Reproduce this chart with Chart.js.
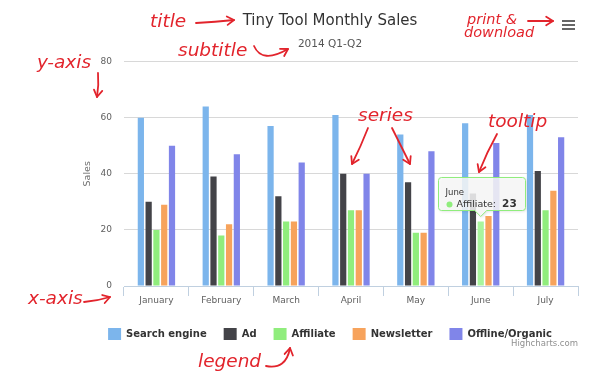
<!DOCTYPE html>
<html>
<head>
<meta charset="utf-8">
<script src="https://cdn.jsdelivr.net/npm/chart.js"></script>
<style>
  body { margin: 0; background: #fff; }
  canvas { display: block; }
</style>
</head>
<body>
<canvas id="salesChart" width="600" height="388"></canvas>
<script>
const months = ['January', 'February', 'March', 'April', 'May', 'June', 'July'];
const searchEngine = [60, 64, 57, 61, 54, 58, 61];
const ad = [30, 39, 32, 40, 37, 33, 41];
const affiliate = [20, 18, 23, 27, 19, 23, 27];
const newsletter = [29, 22, 23, 27, 19, 25, 34];
const offlineOrganic = [50, 47, 44, 40, 48, 51, 53];
const yTicks = [0, 20, 40, 60, 80];

// the point that shows the tooltip (June / Affiliate)
const tipSeries = 2;
const tipIndex = 5;

const RED = '#e2242c';
const HAND = 'italic 18.5px "DejaVu Sans"';

Chart.defaults.font.family = '"DejaVu Sans", sans-serif';

function arrowHead(ctx, fromX, fromY, x, y) {
    const a = Math.atan2(y - fromY, x - fromX);
    const len = 8;
    ctx.beginPath();
    ctx.moveTo(x - len * Math.cos(a - 0.55), y - len * Math.sin(a - 0.55));
    ctx.lineTo(x, y);
    ctx.lineTo(x - len * Math.cos(a + 0.55), y - len * Math.sin(a + 0.55));
    ctx.stroke();
}

function curvedArrow(ctx, x1, y1, cx, cy, x2, y2) {
    ctx.beginPath();
    ctx.moveTo(x1, y1);
    ctx.quadraticCurveTo(cx, cy, x2, y2);
    ctx.stroke();
    arrowHead(ctx, cx, cy, x2, y2);
}

// highcharts-like tooltip, anchored on the bar element
const tipPlugin = {
    id: 'fakeTip',
    afterDatasetsDraw(chart) {
        const el = chart.getDatasetMeta(tipSeries).data[tipIndex];
        const ctx = chart.ctx;
        const w = 87, h = 33;
        const tipX = el.x, tipY = el.y - 5;
        const left = Math.round(tipX - w / 2) + 1.5;
        const bottom = Math.round(tipY - 6) + 0.5;
        const top = bottom - h;
        const right = left + w;
        const r = 3;
        ctx.save();
        ctx.beginPath();
        ctx.moveTo(left + r, top);
        ctx.lineTo(right - r, top);
        ctx.arcTo(right, top, right, top + r, r);
        ctx.lineTo(right, bottom - r);
        ctx.arcTo(right, bottom, right - r, bottom, r);
        ctx.lineTo(tipX + 6, bottom);
        ctx.lineTo(tipX, tipY);
        ctx.lineTo(tipX - 6, bottom);
        ctx.lineTo(left + r, bottom);
        ctx.arcTo(left, bottom, left, bottom - r, r);
        ctx.lineTo(left, top + r);
        ctx.arcTo(left, top, left + r, top, r);
        ctx.closePath();
        ctx.shadowColor = 'rgba(0,0,0,0.15)';
        ctx.shadowOffsetX = 1;
        ctx.shadowOffsetY = 1;
        ctx.shadowBlur = 3;
        ctx.fillStyle = 'rgba(249,249,249,0.85)';
        ctx.fill();
        ctx.shadowColor = 'transparent';
        ctx.strokeStyle = '#90ed7d';
        ctx.lineWidth = 1;
        ctx.stroke();

        ctx.textBaseline = 'middle';
        ctx.textAlign = 'left';
        ctx.fillStyle = '#333';
        ctx.font = '8.5px "DejaVu Sans"';
        ctx.fillText(months[tipIndex], left + 7, top + 15);
        ctx.fillStyle = '#90ed7d';
        ctx.beginPath();
        ctx.arc(left + 11, top + 27, 3, 0, Math.PI * 2);
        ctx.fill();
        ctx.fillStyle = '#333';
        ctx.font = '9.5px "DejaVu Sans"';
        const label = chart.data.datasets[tipSeries].label + ': ';
        ctx.fillText(label, left + 18, top + 27);
        const lw = ctx.measureText(label).width;
        ctx.font = 'bold 10.5px "DejaVu Sans"';
        ctx.fillText(String(affiliate[tipIndex]), left + 18 + lw + 3, top + 27);
        ctx.restore();
    }
};

// menu icon, credit and the red hand notes
const notesPlugin = {
    id: 'notes',
    afterDraw(chart) {
        const ctx = chart.ctx;
        ctx.save();
        ctx.fillStyle = '#666';
        for (let i = 0; i < 3; i++) {
            ctx.fillRect(562, 20 + i * 4, 13, 2);
        }
        ctx.font = '8.5px "DejaVu Sans"';
        ctx.fillStyle = '#909090';
        ctx.textAlign = 'right';
        ctx.textBaseline = 'middle';
        ctx.fillText('Highcharts.com', 578, 344);

        ctx.fillStyle = RED;
        ctx.strokeStyle = RED;
        ctx.lineWidth = 1.8;
        ctx.lineCap = 'round';
        ctx.lineJoin = 'round';
        ctx.font = HAND;
        ctx.textAlign = 'left';

        ctx.fillText('title', 150, 22);
        curvedArrow(ctx, 196, 23, 215, 22, 234, 20);

        ctx.fillText('subtitle', 178, 51);
        curvedArrow(ctx, 254, 46, 262, 64, 288, 49);

        ctx.fillText('y-axis', 37, 63);
        curvedArrow(ctx, 98, 73, 99, 85, 97, 97);

        ctx.fillText('x-axis', 28, 299);
        curvedArrow(ctx, 84, 302, 97, 301, 110, 297);

        ctx.fillText('series', 358, 116);
        curvedArrow(ctx, 368, 128, 361, 146, 352, 164);
        curvedArrow(ctx, 392, 128, 401, 146, 410, 164);

        ctx.fillText('tooltip', 488, 122);
        curvedArrow(ctx, 497, 134, 487, 152, 479, 172);

        ctx.font = 'italic 14.5px "DejaVu Sans"';
        ctx.fillText('print &', 467, 20);
        ctx.fillText('download', 464, 33);
        curvedArrow(ctx, 528, 21, 540, 21, 553, 21);

        ctx.font = HAND;
        ctx.fillText('legend', 198, 362);
        curvedArrow(ctx, 266, 366, 286, 370, 290, 348);
        ctx.restore();
    }
};

new Chart(document.getElementById('salesChart'), {
    type: 'bar',
    data: {
        labels: months,
        datasets: [
            { label: 'Search engine', data: searchEngine, backgroundColor: '#7cb5ec' },
            { label: 'Ad', data: ad, backgroundColor: '#434348' },
            {
                label: 'Affiliate',
                data: affiliate,
                backgroundColor: c => (c.dataIndex === tipIndex ? '#a9f59d' : '#90ed7d')
            },
            { label: 'Newsletter', data: newsletter, backgroundColor: '#f7a35c' },
            { label: 'Offline/Organic', data: offlineOrganic, backgroundColor: '#8085e9' }
        ]
    },
    options: {
        responsive: false,
        animation: false,
        borderWidth: 0,
        categoryPercentage: 0.6,
        barPercentage: 0.8,
        layout: { padding: { left: 60, right: 0, top: 6, bottom: 38 } },
        plugins: {
            title: {
                display: true,
                text: 'Tiny Tool Monthly Sales',
                color: '#333',
                font: { size: 15, weight: 'normal' },
                padding: { top: 6, bottom: 8 }
            },
            subtitle: {
                display: true,
                text: '2014 Q1-Q2',
                color: '#555',
                font: { size: 10.5 },
                padding: { top: 0, bottom: 11 }
            },
            legend: {
                position: 'bottom',
                labels: {
                    boxWidth: 13,
                    boxHeight: 12,
                    padding: 17,
                    color: '#333',
                    font: { size: 10, weight: 'bold' }
                }
            },
            tooltip: { enabled: false }
        },
        scales: {
            x: {
                grid: {
                    display: true,
                    drawOnChartArea: false,
                    drawTicks: true,
                    tickLength: 10,
                    color: '#C0D0E0',
                    offset: true
                },
                border: { display: true, color: '#C0D0E0' },
                ticks: { color: '#606060', font: { size: 9 }, padding: -1, maxRotation: 0 },
                afterFit: s => { s.height = 25; }
            },
            y: {
                min: 0,
                max: 80,
                afterBuildTicks: s => { s.ticks = yTicks.map(v => ({ value: v })); },
                grid: { color: '#D8D8D8', drawTicks: false },
                border: { display: false },
                ticks: { color: '#606060', font: { size: 9 }, padding: 12 },
                title: {
                    display: true,
                    text: 'Sales',
                    color: '#707070',
                    font: { size: 9.5 },
                    padding: { top: 22, bottom: 0 }
                },
                afterFit: s => { s.width = 64; }
            },
            yr: {
                position: 'right',
                min: 0,
                max: 80,
                grid: { display: false, drawTicks: false },
                border: { display: false },
                ticks: { display: false },
                afterFit: s => { s.width = 22; }
            }
        }
    },
    plugins: [tipPlugin, notesPlugin]
});
</script>
</body>
</html>
